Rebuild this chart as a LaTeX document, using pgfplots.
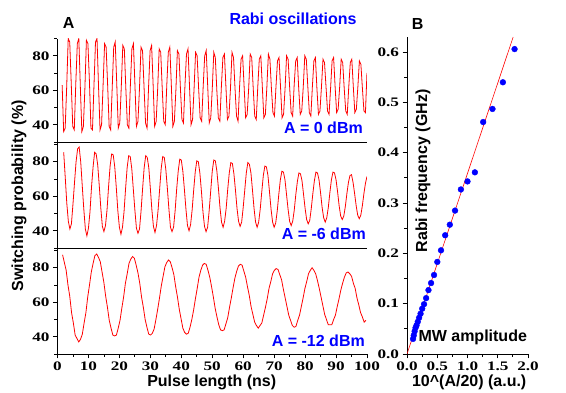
\documentclass[border=0pt]{standalone}
\usepackage{fontspec}
\usepackage{graphicx}
\setmainfont{Liberation Sans}
\newfontfamily\tickfont{Liberation Serif}
\usepackage{pgfplots}
\pgfplotsset{compat=1.18}
\definecolor{myblue}{RGB}{0,0,255}
\definecolor{myred}{RGB}{255,0,0}
\pgfplotsset{
  stretchticks/.style={
    xticklabel={\scalebox{1.32}[1]{\pgfmathprintnumber{\tick}}},
    yticklabel={\scalebox{1.32}[1]{\pgfmathprintnumber{\tick}}},
  },
  lp/.style={
    scale only axis, width=309.5pt,
    xmin=0, xmax=100, ymin=30,
    axis lines*=left,
    axis line style={line width=0.9pt},
    tick align=outside,
    major tick length=4.5pt, minor tick length=3pt,
    every tick/.style={black, line width=0.8pt},
    ytick={40,60,80}, minor ytick={30,50,70,90},
    tick label style={font=\tickfont\bfseries\fontsize{13}{13}\selectfont},
    /pgf/number format/assume math mode=true,
    stretchticks,
    anchor=south west,
  },
}
\tikzset{lab/.style={font=\bfseries\fontsize{16}{19}\selectfont, inner sep=0pt}}
\begin{document}
\begin{tikzpicture}
\path[use as bounding box] (0pt,0pt) rectangle (566pt,393pt);
% ---------- panel 1 : 0 dBm
\begin{axis}[lp, at={(57.5pt,251pt)}, height=103.5pt, ymax=90, xtick=\empty]
\addplot[myred, line width=0.8pt] coordinates {
(1.50,63)(1.99,36)(2.48,38)(2.97,62)(3.46,90)(3.95,88)
(4.44,64)(4.93,39)(5.42,37)(5.91,64)(6.40,87)(6.89,90)
(7.38,62)(7.87,36)(8.36,39)(8.85,61)(9.34,89)(9.83,87)
(10.32,65)(10.81,38)(11.30,37)(11.79,63)(12.28,88)(12.77,90)
(13.26,62)(13.75,37)(14.24,40)(14.73,63)(15.22,87)(15.71,85)
(16.20,63)(16.69,39)(17.18,37)(17.67,61)(18.16,85)(18.65,88)
(19.14,64)(19.63,38)(20.12,41)(20.61,62)(21.10,86)(21.59,84)
(22.08,61)(22.57,40)(23.06,38)(23.55,63)(24.04,84)(24.53,87)
(25.02,63)(25.51,39)(26.00,42)(26.49,61)(26.98,85)(27.47,83)
(27.96,62)(28.45,41)(28.94,38)(29.43,62)(29.92,83)(30.41,86)
(30.90,63)(31.39,39)(31.88,42)(32.37,61)(32.86,84)(33.35,82)
(33.84,61)(34.33,42)(34.82,40)(35.31,63)(35.80,82)(36.29,85)
(36.78,63)(37.27,39)(37.76,42)(38.25,60)(38.74,83)(39.23,81)
(39.72,61)(40.21,43)(40.70,41)(41.19,63)(41.68,81)(42.17,84)
(42.66,62)(43.15,40)(43.64,43)(44.13,61)(44.62,82)(45.11,80)
(45.60,61)(46.09,44)(46.58,42)(47.07,62)(47.56,80)(48.05,83)
(48.54,62)(49.03,41)(49.52,44)(50.01,61)(50.50,82)(50.99,79)
(51.48,60)(51.97,44)(52.46,42)(52.95,62)(53.44,79)(53.93,81)
(54.42,62)(54.91,43)(55.40,45)(55.89,61)(56.38,82)(56.87,79)
(57.36,61)(57.85,45)(58.34,42)(58.83,62)(59.32,78)(59.81,80)
(60.30,62)(60.79,44)(61.28,46)(61.77,61)(62.26,81)(62.75,79)
(63.24,61)(63.73,45)(64.22,43)(64.71,62)(65.20,78)(65.69,80)
(66.18,62)(66.67,44)(67.16,46)(67.65,62)(68.14,81)(68.63,78)
(69.12,61)(69.61,47)(70.10,45)(70.59,62)(71.08,77)(71.57,79)
(72.06,62)(72.55,44)(73.04,46)(73.53,61)(74.02,80)(74.51,78)
(75.00,62)(75.49,47)(75.98,45)(76.47,63)(76.96,77)(77.45,79)
(77.94,61)(78.43,46)(78.92,48)(79.41,62)(79.90,80)(80.39,78)
(80.88,62)(81.37,47)(81.86,45)(82.35,62)(82.84,77)(83.33,79)
(83.82,61)(84.31,46)(84.80,48)(85.29,62)(85.78,78)(86.27,76)
(86.76,62)(87.25,48)(87.74,46)(88.23,61)(88.72,77)(89.21,79)
(89.70,62)(90.19,47)(90.68,49)(91.17,62)(91.66,78)(92.15,76)
(92.64,61)(93.13,48)(93.62,46)(94.11,62)(94.60,76)(95.09,78)
(95.58,62)(96.07,47)(96.56,49)(97.05,62)(97.54,77)(98.03,75)
(98.52,61)(99.01,48)(99.50,47)(99.99,70)
};
\end{axis}
% ---------- panel 2 : -6 dBm
\begin{axis}[lp, at={(57.5pt,145pt)}, height=106.1pt, ymax=91.5, xtick=\empty]
\addplot[myred, line width=0.8pt] coordinates {
(2.0,85.5)(2.5,71)(3.0,56)(3.5,45.5)(4.0,41)(4.5,44)(5.0,55.5)(5.5,68)(6.0,80)(6.5,87.5)(7.0,88.5)
(7.5,80)(8.0,66)(8.5,52.5)(9.0,41)(9.5,37)(10.0,41.5)(10.5,51)(11.0,65.5)(11.5,77)(12.0,85.5)(12.5,84.5)
(13.0,78)(13.5,66)(14.0,53)(14.5,42.5)(15.0,39.5)(15.5,43)(16.0,52)(16.5,65.5)(17.0,77.5)(17.5,84.5)(18.0,84)
(18.5,77)(19.0,65)(19.5,51.5)(20.0,42)(20.5,38)(21.0,42)(21.5,51)(22.0,64.5)(22.5,76.5)(23.0,83.5)(23.5,83)
(24.0,76)(24.5,64)(25.0,52)(25.5,41.5)(26.0,38.5)(26.5,41)(27.0,51.5)(27.5,64.5)(28.0,76.5)(28.5,83.5)(29.0,82.5)
(29.5,76.5)(30.0,64.5)(30.5,52)(31.0,42.5)(31.5,39)(32.0,43)(32.5,52)(33.0,64)(33.5,76)(34.0,83)(34.5,82.5)
(35.0,75.5)(35.5,64.5)(36.0,52.5)(36.5,42)(37.0,39.5)(37.5,42)(38.0,51.5)(38.5,64)(39.0,74.5)(39.5,81.5)(40.0,81)
(40.5,74.5)(41.0,64)(41.5,52.5)(42.0,43)(42.5,40)(43.0,43.5)(43.5,52)(44.0,63.5)(44.5,74)(45.0,80.5)(45.5,80)
(46.0,73.5)(46.5,63)(47.0,51)(47.5,42.5)(48.0,39.5)(48.5,42)(49.0,51.5)(49.5,63)(50.0,74.5)(50.5,81)(51.0,80.5)
(51.5,74.5)(52.0,64.5)(52.5,53.5)(53.0,45)(53.5,42)(54.0,45.5)(54.5,53)(55.0,64)(55.5,73.5)(56.0,79.5)(56.5,79)
(57.0,73)(57.5,63.5)(58.0,53)(58.5,45.5)(59.0,42.5)(59.5,45)(60.0,53.5)(60.5,63.5)(61.0,73.5)(61.5,79.5)(62.0,78.5)
(62.5,73.5)(63.0,63.5)(63.5,53)(64.0,45)(64.5,42)(65.0,45)(65.5,52.5)(66.0,62.5)(66.5,72)(67.0,77.5)(67.5,77)
(68.0,72)(68.5,62.5)(69.0,52.5)(69.5,45)(70.0,42)(70.5,44.5)(71.0,51.5)(71.5,61)(72.0,69.5)(72.5,74.5)(73.0,74)
(73.5,69.5)(74.0,61)(74.5,52.5)(75.0,45.5)(75.5,43)(76.0,45.5)(76.5,52)(77.0,61)(77.5,68.5)(78.0,73.5)(78.5,73)
(79.0,69)(79.5,61)(80.0,53)(80.5,46.5)(81.0,44)(81.5,46)(82.0,53)(82.5,61.5)(83.0,69)(83.5,74)(84.0,73.5)
(84.5,69.5)(85.0,62)(85.5,53.5)(86.0,47.5)(86.5,45)(87.0,47.5)(87.5,53.5)(88.0,62)(88.5,69.5)(89.0,74)(89.5,73.5)
(90.0,69.5)(90.5,62.5)(91.0,54.5)(91.5,48.5)(92.0,46.5)(92.5,48.5)(93.0,54)(93.5,61.5)(94.0,68)(94.5,72)(95.0,72.5)
(95.5,68)(96.0,61.5)(96.5,54.5)(97.0,49)(97.5,47)(98.0,49)(98.5,54.5)(99.0,61.5)(99.5,67.5)(100.0,71.5)
};
\end{axis}
% ---------- panel 3 : -12 dBm
\begin{axis}[lp, at={(57.5pt,39pt)}, height=106.1pt, ymax=91.5,
  xtick={0,10,...,100}, minor xtick={5,15,...,95}]
\addplot[myred, line width=0.8pt] coordinates {
(1.64,87.5)(2.22,83)(2.80,78.5)(3.38,70)(3.96,63.5)(4.54,54)(5.12,48)(5.70,41)(6.28,39)(6.86,37)
(7.44,38.5)(8.02,41.5)(8.60,48)(9.18,54)(9.76,63)(10.34,70)(10.92,77.5)(11.50,82.5)(12.08,87)(12.66,88)
(13.24,86)(13.82,83.5)(14.40,77.5)(14.98,71.5)(15.56,63.5)(16.14,57)(16.72,49.5)(17.30,45)(17.88,41)(18.46,40.5)
(19.04,41)(19.62,45)(20.20,49.5)(20.78,56.5)(21.36,63)(21.94,71)(22.52,76.5)(23.10,82.5)(23.68,85)(24.26,86.5)
(24.84,85.5)(25.42,81.5)(26.00,77)(26.58,71)(27.16,63)(27.74,57)(28.32,50)(28.90,45.5)(29.48,41.5)(30.06,41)
(30.64,42)(31.22,44.5)(31.80,50)(32.38,56)(32.96,62.5)(33.54,69.5)(34.12,75)(34.70,80.5)(35.28,83)(35.86,84.5)
(36.44,83.5)(37.02,80)(37.60,76)(38.18,69)(38.76,63)(39.34,56)(39.92,50.5)(40.50,45)(41.08,42.5)(41.66,41.5)
(42.24,42)(42.82,45.5)(43.40,50)(43.98,55.5)(44.56,62)(45.14,68)(45.72,74.5)(46.30,78.5)(46.88,81.5)(47.46,82.5)
(48.04,82)(48.62,78.5)(49.20,74.5)(49.78,69)(50.36,63)(50.94,56.5)(51.52,51.5)(52.10,47)(52.68,44)(53.26,43.5)
(53.84,44)(54.42,47.5)(55.00,51)(55.58,57)(56.16,62.5)(56.74,68.5)(57.32,74)(57.90,78)(58.48,81)(59.06,82)
(59.64,81.5)(60.22,78)(60.80,74.5)(61.38,69)(61.96,64)(62.54,57.5)(63.12,53)(63.70,48.5)(64.28,46.5)(64.86,45)
(65.44,46.5)(66.02,48)(66.60,52.5)(67.18,57)(67.76,62)(68.34,68)(68.92,72)(69.50,76.5)(70.08,78.5)(70.66,79.5)
(71.24,79)(71.82,76)(72.40,73)(72.98,67.5)(73.56,62.5)(74.14,57.5)(74.72,52.5)(75.30,49.5)(75.88,46.5)(76.46,45.5)
(77.04,46)(77.62,49.5)(78.20,52.5)(78.78,57.5)(79.36,62.5)(79.94,68)(80.52,72)(81.10,76.5)(81.68,78.5)(82.26,80)
(82.84,78.5)(83.42,76.5)(84.00,72.5)(84.58,68)(85.16,63)(85.74,58)(86.32,53)(86.90,50)(87.48,47)(88.06,47)
(88.64,47)(89.22,50)(89.80,52.5)(90.38,57.5)(90.96,62)(91.54,67)(92.12,71)(92.70,74.5)(93.28,77)(93.86,77.5)
(94.44,76.5)(95.02,75)(95.60,71)(96.18,68)(96.76,62.5)(97.34,58.5)(97.92,54)(98.50,51.5)(99.08,48.5)(99.66,49.5)
};
\end{axis}
% ---------- right panel
\begin{axis}[scale only axis, width=121pt, height=317pt, at={(407pt,39pt)}, anchor=south west,
  xmin=0, xmax=2, ymin=0, ymax=0.63,
  axis lines*=left,
  axis line style={line width=0.9pt},
  tick align=outside,
  major tick length=4.5pt, minor tick length=3pt,
  every tick/.style={black, line width=0.8pt},
  xtick={0,0.5,1,1.5,2}, ytick={0,0.1,0.2,0.3,0.4,0.5,0.6},
  minor x tick num=1, minor y tick num=1,
  tick label style={font=\tickfont\bfseries\fontsize{13}{13}\selectfont},
  /pgf/number format/assume math mode=true,
  /pgf/number format/fixed, /pgf/number format/fixed zerofill, /pgf/number format/precision=1,
  stretchticks,
]
\addplot[myred, line width=0.6pt] coordinates {(0,0) (1.755,0.63)};
\addplot[only marks, mark=*, mark size=2.9pt, color=myblue, mark options={draw=myblue, fill=myblue}] coordinates {
(1.778,0.606)(1.585,0.540)(1.413,0.487)(1.259,0.461)(1.122,0.361)(1.000,0.343)
(0.891,0.327)(0.794,0.285)(0.708,0.257)(0.631,0.236)(0.562,0.206)(0.501,0.183)
(0.447,0.157)(0.398,0.141)(0.355,0.127)(0.316,0.111)(0.282,0.099)(0.251,0.090)
(0.224,0.080)(0.200,0.072)(0.178,0.064)(0.158,0.057)(0.141,0.052)(0.126,0.045)
(0.112,0.037)(0.100,0.030)
};
\end{axis}
% ---------- texts
\node[lab, anchor=base west] at (62.7pt,364.7pt) {A};
\node[lab, anchor=base west] at (411.7pt,363.7pt) {B};
\node[lab, anchor=base west, text=myblue] at (229.3pt,368pt) {Rabi oscillations};
\node[lab, anchor=base east, text=myblue] at (363pt,259.7pt) {A = 0 dBm};
\node[lab, anchor=base east, text=myblue] at (366pt,153pt) {A = -6 dBm};
\node[lab, anchor=base east, text=myblue] at (365pt,46.3pt) {A = -12 dBm};
\node[lab, anchor=base west] at (418.3pt,51.3pt) {MW amplitude};
\node[lab, anchor=base] at (211.7pt,6.5pt) {Pulse length (ns)};
\node[lab, anchor=base] at (469.2pt,6.5pt) {10\^{}(A/20) (a.u.)};
\node[lab, rotate=90] at (19pt,197pt) {Switching probability (\%)};
\node[lab, rotate=90] at (423pt,222pt) {Rabi frequency (GHz)};
\end{tikzpicture}
\end{document}
